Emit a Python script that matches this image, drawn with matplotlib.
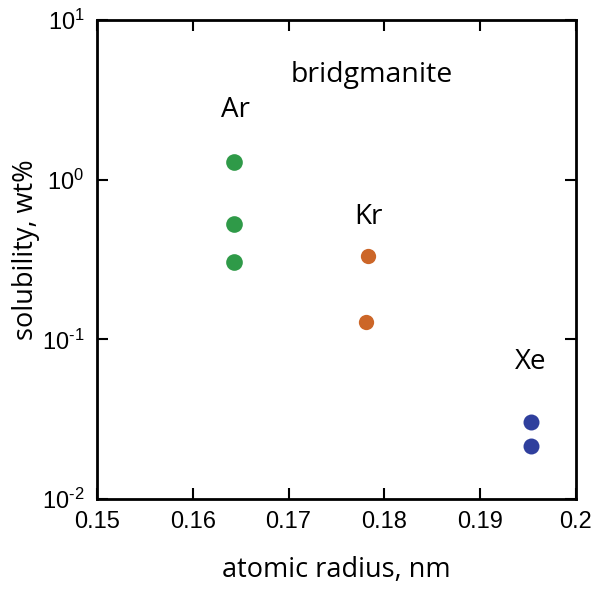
import numpy as np
import matplotlib
matplotlib.use('Agg')
import matplotlib.pyplot as plt

plt.rcParams['font.family'] = 'Liberation Sans'
plt.rcParams['mathtext.fontset'] = 'custom'
plt.rcParams['mathtext.rm'] = 'Liberation Sans'
plt.rcParams['mathtext.it'] = 'Liberation Sans'
plt.rcParams['mathtext.bf'] = 'Liberation Sans'
plt.rcParams['axes.unicode_minus'] = False

# atomic radius (nm) and solubility (wt%)
ar_x = [0.1643, 0.1643, 0.1643]
ar_y = [1.29, 0.525, 0.306]
kr_x = [0.1783, 0.1781]
kr_y = [0.334, 0.129]
xe_x = [0.1953, 0.1953]
xe_y = [0.0305, 0.0216]

x_ticks = [0.15, 0.16, 0.17, 0.18, 0.19, 0.2]
x_labels = ['0.15', '0.16', '0.17', '0.18', '0.19', '0.2']
y_ticks = [1e-2, 1e-1, 1e0, 1e1]
y_labels = [r'$10^{\text{-}2}$', r'$10^{\text{-}1}$', r'$10^{0}$', r'$10^{1}$']

label_font = 'Open Sans'

fig = plt.figure(figsize=(5.96, 5.96), dpi=100)
ax = fig.add_axes([0.1628, 0.1628, 0.8036, 0.8036])

ax.plot(ar_x, ar_y, 'o', color='#2f9a48', markersize=12, markeredgewidth=0)
ax.plot(kr_x, kr_y, 'o', color='#cc6628', markersize=11, markeredgewidth=0)
ax.plot(xe_x, xe_y, 'o', color='#2f3f9d', markersize=11.5, markeredgewidth=0)

ax.set_yscale('log')
ax.set_xlim(0.15, 0.2)
ax.set_ylim(1e-2, 1e1)
ax.set_xticks(x_ticks)
ax.set_xticklabels(x_labels)
ax.set_yticks(y_ticks)
ax.set_yticklabels(y_labels)
ax.yaxis.set_minor_locator(matplotlib.ticker.NullLocator())
ax.tick_params(direction='in', length=8, width=1.5, top=True, right=True,
               labelsize=17, pad=9)
for s in ax.spines.values():
    s.set_linewidth(2)

ax.set_xlabel('atomic radius, nm', fontsize=19.5, family=label_font, labelpad=16)
ax.set_ylabel('solubility, wt%', fontsize=19.5, family=label_font, labelpad=6)
ax.yaxis.set_label_coords(-0.12, 0.52)

ax.text(0.1645, 2.75, 'Ar', fontsize=20, family=label_font, ha='center', va='center')
ax.text(0.1783, 0.58, 'Kr', fontsize=20, family=label_font, ha='center', va='center')
ax.text(0.1953, 0.072, 'Xe', fontsize=20, family=label_font, ha='center', va='center')
ax.text(0.1787, 4.5, 'bridgmanite', fontsize=20.5, family=label_font, ha='center', va='center')

plt.savefig('out.png', dpi=100)
